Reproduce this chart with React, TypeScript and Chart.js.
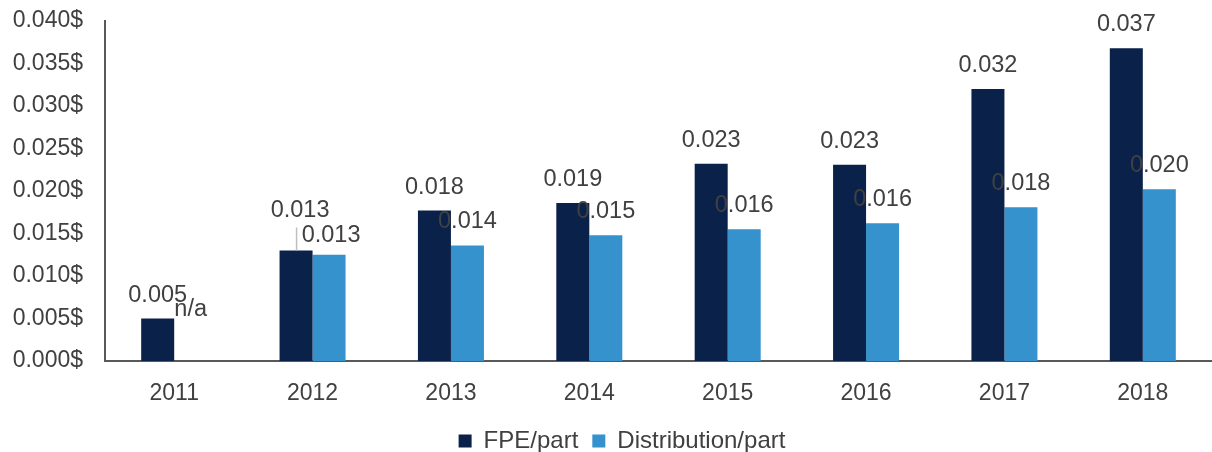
import React, { useEffect, useRef } from "react";
import { Chart, registerables } from "chart.js";

Chart.register(...registerables);

const categories = ["2011", "2012", "2013", "2014", "2015", "2016", "2017", "2018"];
const fpePerPart = [0.005, 0.013, 0.0177, 0.0186, 0.0232, 0.0231, 0.0320, 0.0368];
const distributionPerPart: (number | null)[] = [null, 0.0125, 0.0136, 0.0148, 0.0155, 0.0162, 0.0181, 0.0202];
const fpeLabels = ["0.005", "0.013", "0.018", "0.019", "0.023", "0.023", "0.032", "0.037"];
const distributionLabels = ["n/a", "0.013", "0.014", "0.015", "0.016", "0.016", "0.018", "0.020"];

const NAVY = "#0A2149";
const BLUE = "#3592CC";
const TEXT = "#404040";
const FONT = "'Liberation Sans', Arial, sans-serif";

const labelPlugin = {
  id: "barLabels",
  afterInit(chart: any) {
    const legend = chart.legend;
    if (legend) {
      const origFit = legend.fit;
      legend.fit = function (this: any) {
        origFit.call(this);
        this.height = 37;
      };
    }
  },
  afterLayout(chart: any) {
    const legend = chart.legend;
    if (legend) {
      legend.left += 16;
      legend.right += 16;
    }
  },
  afterDatasetsDraw(chart: any) {
    const ctx = chart.ctx;
    const yScale = chart.scales.y;
    const zeroY = yScale.getPixelForValue(0);
    ctx.save();
    ctx.font = `23.5px ${FONT}`;
    ctx.fillStyle = TEXT;
    ctx.textAlign = "center";
    ctx.textBaseline = "alphabetic";
    chart.data.datasets.forEach((ds: any, di: number) => {
      const meta = chart.getDatasetMeta(di);
      const texts = di === 0 ? fpeLabels : distributionLabels;
      meta.data.forEach((el: any, i: number) => {
        const v = ds.data[i];
        const x = el.x;
        if (v === null || v === undefined) {
          ctx.fillText(texts[i], x, zeroY - 45);
          return;
        }
        const top = yScale.getPixelForValue(v);
        if (di === 0 && i === 1) {
          ctx.fillText(texts[i], x + 4, top - 34);
          ctx.save();
          ctx.strokeStyle = "#BFBFBF";
          ctx.lineWidth = 1.5;
          ctx.beginPath();
          ctx.moveTo(x + 0.5, top - 23);
          ctx.lineTo(x + 0.5, top);
          ctx.stroke();
          ctx.restore();
          return;
        }
        if (di === 1 && i === 1) {
          ctx.fillText(texts[i], x + 2, top - 13);
          return;
        }
        ctx.fillText(texts[i], x, top - 17);
      });
    });
    ctx.restore();
  },
};

export default function App() {
  const ref = useRef<HTMLCanvasElement | null>(null);
  useEffect(() => {
    document.body.style.margin = "0";
    if (!ref.current) return;
    const chart = new Chart(ref.current, {
      type: "bar",
      data: {
        labels: categories,
        datasets: [
          {
            label: "FPE/part",
            data: fpePerPart,
            backgroundColor: NAVY,
            borderWidth: 0,
            categoryPercentage: 0.477,
            barPercentage: 1,
          },
          {
            label: "Distribution/part",
            data: distributionPerPart,
            backgroundColor: BLUE,
            borderWidth: 0,
            categoryPercentage: 0.477,
            barPercentage: 1,
          },
        ],
      },
      options: {
        responsive: false,
        animation: false,
        layout: { padding: { top: 0, right: 0, left: 0, bottom: 0 } },
        plugins: {
          legend: {
            position: "bottom",
            labels: {
              font: { family: FONT, size: 24 },
              color: TEXT,
              boxWidth: 13,
              boxHeight: 13,
              padding: 14,
            },
          },
          tooltip: { enabled: false },
        },
        scales: {
          x: {
            grid: { display: false, drawTicks: false },
            border: { display: true, color: "#595959", width: 2 },
            ticks: { font: { family: FONT, size: 23 }, color: TEXT, padding: 19 },
            afterFit: (scale: any) => {
              scale.height = 54;
            },
          },
          y: {
            min: 0,
            max: 0.04,
            grid: { display: false, drawTicks: false },
            border: { display: true, color: "#595959", width: 2 },
            ticks: {
              stepSize: 0.005,
              font: { family: FONT, size: 23 },
              color: TEXT,
              padding: 22,
              callback: (v: any) => Number(v).toFixed(3) + "$",
            },
            afterFit: (scale: any) => {
              scale.width = 105;
              scale.paddingTop = 21;
              scale.paddingBottom = 0;
            },
          },
        },
      },
      plugins: [labelPlugin],
    });
    return () => chart.destroy();
  }, []);
  return (
    <div style={{ width: 1212, height: 452 }}>
      <canvas ref={ref} width={1212} height={452} />
    </div>
  );
}
